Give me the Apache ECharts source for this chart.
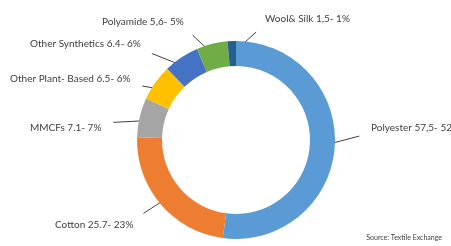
<!DOCTYPE html>
<html lang="en">
<head>
    <meta charset="UTF-8">
    <title>Fibre production</title>
    <script src="https://cdn.jsdelivr.net/npm/echarts@6/dist/echarts.min.js"></script>
    <style>
        html, body {margin: 0; padding: 0; background: #fff;}
        #main {width: 451px; height: 246px;}
    </style>
</head>
<body>
<div id="main"></div>
<script type="text/javascript">
    // data
    var categories = ['Polyester', 'Cotton', 'MMCFs', 'Other Plant- Based', 'Other Synthetics', 'Polyamide', 'Wool& Silk'];
    var volumes = [57.5, 25.7, 7.1, 6.5, 6.4, 5.6, 1.5];
    var volumeText = ['57,5', '25.7', '7.1', '6.5', '6.4', '5,6', '1,5'];
    var shares = [52, 23, 7, 6, 6, 5, 1];
    var colors = ['#5B9BD5', '#ED7D31', '#A5A5A5', '#FFC000', '#4472C4', '#70AD47', '#255E91'];

    var cx = 236, cy = 140, r0 = 74, r1 = 99;
    // where each label text sits (left / middle)
    var labelPos = [[371, 128], [55, 225], [30, 128], [10, 79], [30, 44], [102, 22], [265, 19]];

    var myChart = echarts.init(document.getElementById('main'));
    var option = {
        animation: false,
        title: {
            text: 'Source: Textile Exchange',
            right: 4,
            bottom: 0,
            textStyle: {fontSize: 7, fontWeight: 'normal', color: '#404040', fontFamily: 'Lato'}
        },
        series: [{
            type: 'pie',
            silent: true,
            center: [cx, cy],
            radius: [r0, r1],
            startAngle: 90,
            clockwise: true,
            avoidLabelOverlap: false,
            itemStyle: {borderWidth: 0},
            label: {
                show: true,
                position: 'outside',
                color: '#404040',
                fontSize: 10,
                fontFamily: 'Lato',
                formatter: function (p) {
                    return p.name + ' ' + volumeText[p.dataIndex] + '- ' + shares[p.dataIndex] + '%';
                }
            },
            labelLine: {show: true, length: 10, length2: 10, lineStyle: {color: '#404040', width: 1}},
            labelLayout: function (params) {
                var i = params.dataIndex;
                var pos = labelPos[i];
                var w = params.labelRect.width, h = params.labelRect.height;
                var rect = {x: pos[0], y: pos[1] - h / 2, w: w, h: h};
                // start of the leader line in the middle of the ring
                var p0 = params.labelLinePoints[0];
                var dx = p0[0] - cx, dy = p0[1] - cy;
                var d = Math.sqrt(dx * dx + dy * dy);
                var rm = (r0 + r1) / 2;
                var s = [cx + dx / d * rm, cy + dy / d * rm];
                // nearest point of the label box
                var nx = Math.max(rect.x, Math.min(s[0], rect.x + rect.w));
                var ny = Math.max(rect.y, Math.min(s[1], rect.y + rect.h));
                var lx = nx - s[0], ly = ny - s[1];
                var ll = Math.sqrt(lx * lx + ly * ly);
                var len = Math.max(ll - 12, 0);
                var e = [s[0] + lx / ll * len, s[1] + ly / ll * len];
                return {
                    x: pos[0],
                    y: pos[1],
                    align: 'left',
                    verticalAlign: 'middle',
                    labelLinePoints: [s, e]
                };
            },
            data: categories.map(function (c, i) {
                return {name: c, value: volumes[i], itemStyle: {color: colors[i]}};
            })
        }]
    };
    myChart.setOption(option);
</script>
</body>
</html>
